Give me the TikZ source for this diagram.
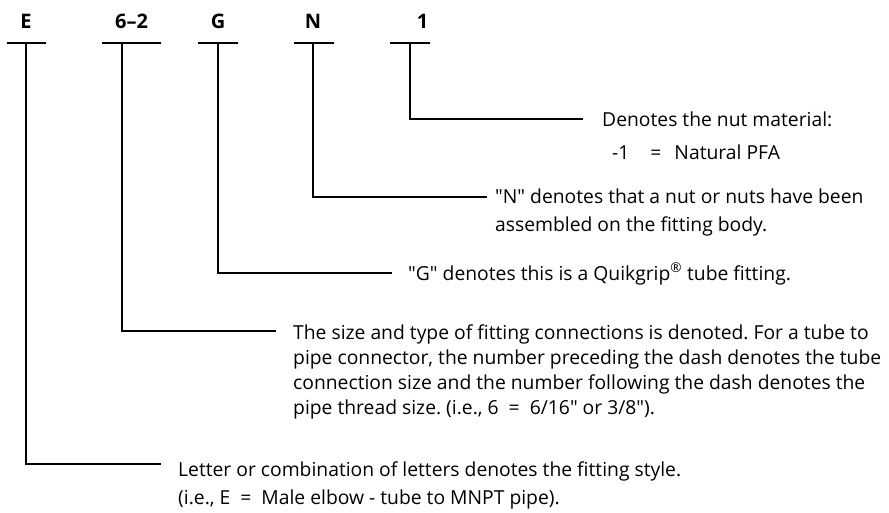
\documentclass[tikz,border=0pt]{standalone}
\usepackage{fontspec}
\setmainfont{Open Sans}[Ligatures=TeXOff]
\usetikzlibrary{positioning, calc}
\frenchspacing

\begin{document}
\begin{tikzpicture}[x=1pt, y=-1pt,
    code/.style={font=\bfseries\fontsize{20}{24}\selectfont, inner sep=0pt, anchor=base},
    desc/.style={font=\fontsize{19.3}{25}\selectfont, inner sep=0pt, anchor=base west, align=left},
    lead/.style={line width=1.6pt},
  ]
  \useasboundingbox (0,0) rectangle (889,513);

  % part number letters
  \node[code] (cE)   at (26,28.5)    {E};
  \node[code] (cSz)  at (131.5,28.5) {6–2};
  \node[code] (cG)   at (218,28.5)   {G};
  \node[code] (cN)   at (313,28.5)   {N};
  \node[code] (cOne) at (422.5,28.5) {1};

  % bars under them
  \coordinate (bE)   at (26,43);
  \coordinate (bSz)  at (122,43);
  \coordinate (bG)   at (218,43);
  \coordinate (bN)   at (313,43);
  \coordinate (bOne) at (410,43);
  \draw[lead] ([xshift=-19pt]bE) -- ([xshift=20pt]bE);
  \draw[lead] ([xshift=-20pt]bSz) -- ([xshift=39pt]bSz);
  \draw[lead] ([xshift=-20pt]bG) -- ([xshift=20pt]bG);
  \draw[lead] ([xshift=-19pt]bN) -- ([xshift=21pt]bN);
  \draw[lead] ([xshift=-20pt]bOne) -- ([xshift=20pt]bOne);

  % descriptions (placed at the baseline of their last line)
  \node[desc] (dOne) at (602,160) {Denotes the nut material:\\[8.5pt]
    \hspace{10pt}-1\hspace{21pt}=\hspace{13pt}Natural PFA};
  \node[desc] (dN) at (495,232) {"N" denotes that a nut or nuts have been\\[3pt]
    assembled on the fitting body.};
  \node[desc] (dG) at (408,280) {"G" denotes this is a Quikgrip\textsuperscript{®} tube fitting.};
  \node[desc] (dSz) at (293,414) {The size and type of fitting connections is denoted. For a tube to\\
    pipe connector, the number preceding the dash denotes the tube\\
    connection size and the number following the dash denotes the\\
    pipe thread size. (i.e., 6 \ = \ 6/16" or 3/8").};
  \node[desc] (dE) at (178,504) {Letter or combination of letters denotes the fitting style.\\[3pt]
    (i.e., E \ = \ Male elbow - tube to MNPT pipe).};

  % leader ends
  \coordinate (eOne) at (583,119);
  \coordinate (eN)   at (487,197);
  \coordinate (eG)   at (392,273);
  \coordinate (eSz)  at (276,331);
  \coordinate (eE)   at (161,464);

  \draw[lead] (bOne) |- (eOne);
  \draw[lead] (bN) |- (eN);
  \draw[lead] (bG) |- (eG);
  \draw[lead] (bSz) |- (eSz);
  \draw[lead] (bE) |- (eE);
\end{tikzpicture}
\end{document}
